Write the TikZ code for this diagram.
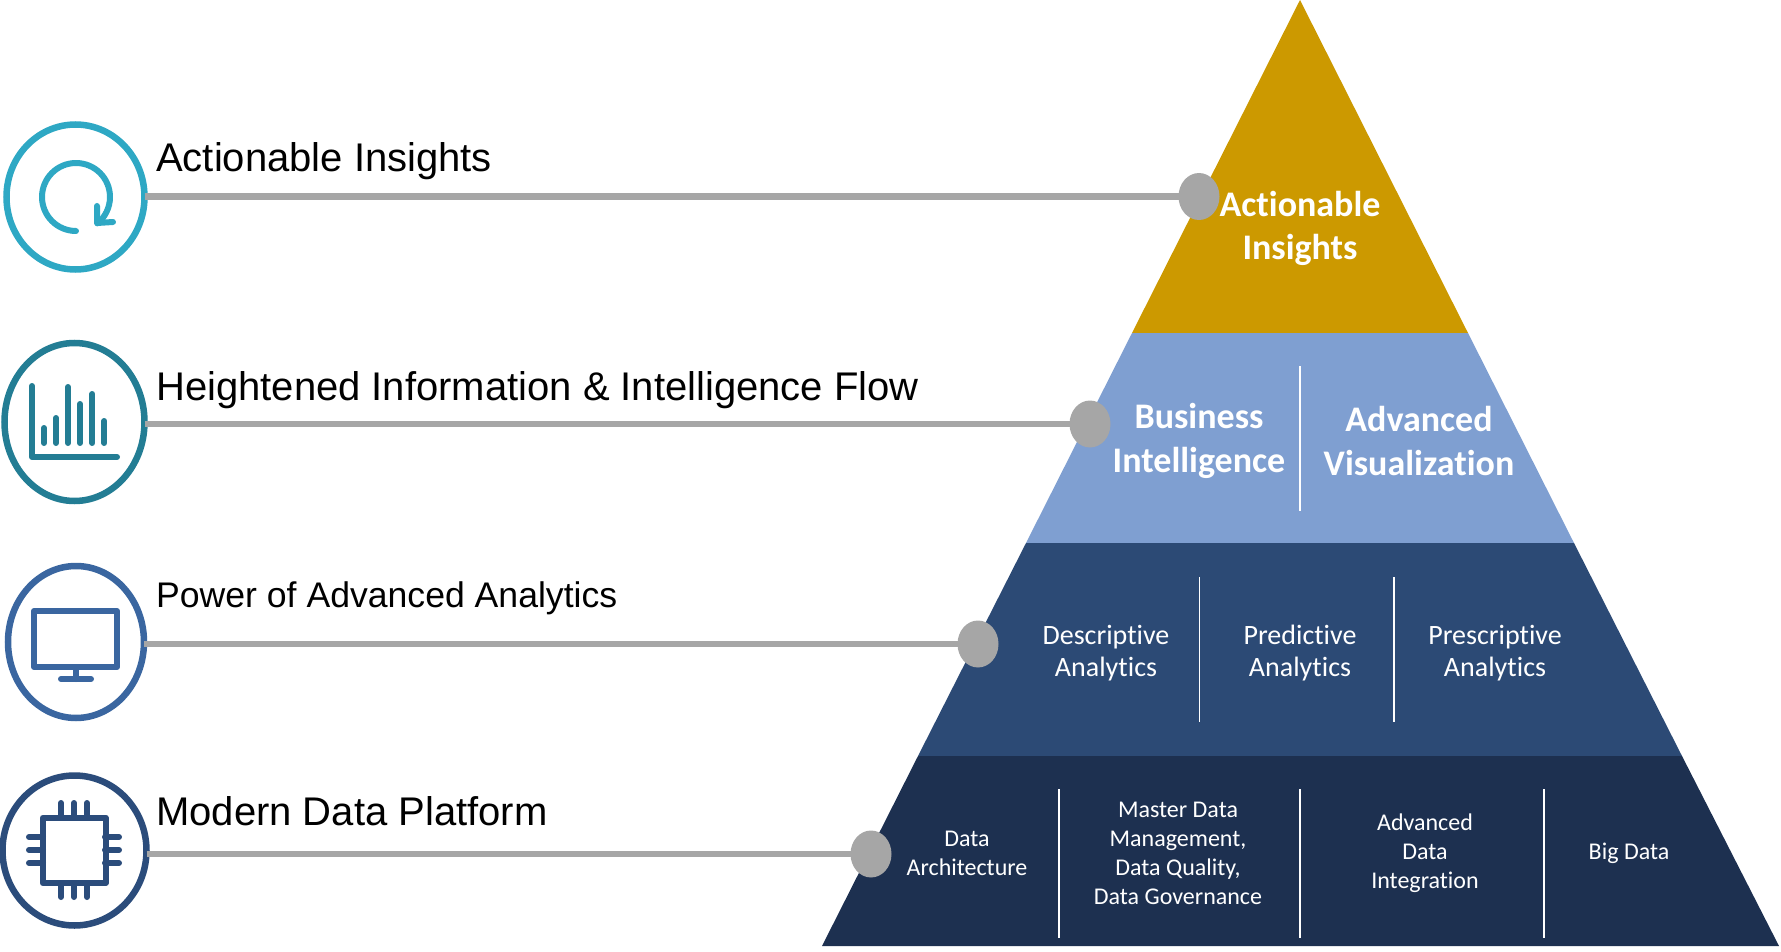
\documentclass[tikz,border=0pt]{standalone}
\usepackage{fontspec}
\setmainfont{Liberation Sans}
\newfontfamily\carlitofont[Ligatures=NoCommon]{Carlito}
\usetikzlibrary{shapes.geometric}
\definecolor{cA}{HTML}{2EA8C4}
\definecolor{cB}{HTML}{237D94}
\definecolor{cC}{HTML}{3A66A0}
\definecolor{cD}{HTML}{2B4C7B}
\definecolor{tierA}{HTML}{CC9900}
\definecolor{tierB}{HTML}{7F9FD1}
\definecolor{tierC}{HTML}{2C4A75}
\definecolor{tierD}{HTML}{1D3050}
\definecolor{grayline}{HTML}{A6A6A6}
\tikzset{
  ring/.style={ellipse,draw,fill=white,line width=6.5pt,inner sep=0pt,outer sep=0pt},
  icon/.style={line width=6pt,line cap=round,line join=round},
  conn/.style={draw=grayline,line width=6.5pt},
  dot/.style={ellipse,fill=grayline,inner sep=0pt,outer sep=0pt,minimum width=41pt,minimum height=47pt},
  sep/.style={draw=white,line width=1.6pt},
  lab/.style={anchor=base west,inner sep=0pt,font=\fontsize{40}{46}\selectfont},
  labsmall/.style={anchor=base west,inner sep=0pt,font=\fontsize{35.6}{42}\selectfont},
  big/.style={text=white,align=center,inner sep=0pt,font=\carlitofont\bfseries\fontsize{36}{43.6}\selectfont},
  mid/.style={text=white,align=center,inner sep=0pt,font=\carlitofont\fontsize{28}{32}\selectfont},
  small/.style={text=white,align=center,inner sep=0pt,font=\carlitofont\fontsize{24}{29}\selectfont},
}
\begin{document}
\begin{tikzpicture}[x=1pt,y=-1pt]
\useasboundingbox (0,0) rectangle (1781,952);
% pyramid
\fill[tierA] (1300,0) -- (1468,333) -- (1132,333) -- cycle;
\fill[tierB] (1132,333) -- (1468,333) -- (1574,543) -- (1026,543) -- cycle;
\fill[tierC] (1026,543) -- (1574,543) -- (1682,756) -- (918,756) -- cycle;
\fill[tierD] (918,756) -- (1682,756) -- (1779,946) -- (822,946) -- cycle;
% separators
\draw[sep] (1300,366) -- (1300,511);
\draw[sep] (1199.5,577) -- (1199.5,722);
\draw[sep] (1394,577) -- (1394,722);
\draw[sep] (1059,789) -- (1059,938);
\draw[sep] (1300,789) -- (1300,938);
\draw[sep] (1544,789) -- (1544,938);
% pyramid text
\node[big] (p1) at (1300,228.5) {Actionable\\Insights};
\node[big] (p2) at (1199,441) {Business\\Intelligence};
\node[big] (p3) at (1419,441) {Advanced\\Visualization};
\node[mid] (p4) at (1106,653) {Descriptive\\Analytics};
\node[mid] (p5) at (1300,653) {Predictive\\Analytics};
\node[mid] (p6) at (1495,653) {Prescriptive\\Analytics};
\node[small] (p7) at (967,853) {Data\\Architecture};
\node[small] (p8) at (1178,853) {Master Data\\Management,\\Data Quality,\\Data Governance};
\node[small] (p9) at (1425,853) {Advanced\\Data\\Integration};
\node[small] (p10) at (1629,853) {Big Data};
% rings
\node[ring,draw=cA,minimum width=138pt,minimum height=145pt] (c1) at (75.5,197) {};
\node[ring,draw=cB,minimum width=140pt,minimum height=158pt] (c2) at (74.5,422) {};
\node[ring,draw=cC,minimum width=136pt,minimum height=152pt] (c3) at (76,642) {};
\node[ring,draw=cD,minimum width=144pt,minimum height=150pt] (c4) at (74.5,850.5) {};
% dots
\node[dot] (d1) at (1199,196.5) {};
\node[dot] (d2) at (1090,424) {};
\node[dot] (d3) at (978,644) {};
\node[dot] (d4) at (871,854) {};
% connectors
\draw[conn] (c1.east |- d1.center) -- (d1.west);
\draw[conn] (c2.east |- d2.center) -- (d2.west);
\draw[conn] (c3.east |- d3.center) -- (d3.west);
\draw[conn] (c4.east |- d4.center) -- (d4.west);
% labels
\node[lab] (l1) at (156,172) {Actionable Insights};
\node[lab] (l2) at (156,400) {Heightened Information \& Intelligence Flow};
\node[labsmall] (l3) at (156,607) {Power of Advanced Analytics};
\node[lab] (l4) at (156,825) {Modern Data Platform};
% icon 1
\draw[icon,cA] (76,231) arc (90:411:34);
\draw[icon,cA] (97,206) -- (97,223) -- (113,222);
% icon 2
\draw[icon,cB] (32,386) -- (32,457) -- (117,457);
\foreach \x/\t in {44/428,56/418,68/387,80/404,92.3/394,104.3/421}
  \draw[icon,cB] (\x,\t) -- (\x,443);
% icon 3
\draw[icon,cC] (34,611) rectangle (117,667);
\draw[icon,cC] (76,667) -- (76,679);
\draw[icon,cC] (61,679) -- (91,679);
% icon 4
\draw[icon,cD] (42.7,817.7) rectangle (105.7,883);
\foreach \x in {61,74,87} {
  \draw[icon,cD] (\x,803) -- (\x,817);
  \draw[icon,cD] (\x,883) -- (\x,897);
}
\foreach \y in {837,850,863} {
  \draw[icon,cD] (29,\y) -- (43,\y);
  \draw[icon,cD] (105,\y) -- (119,\y);
}
\end{tikzpicture}
\end{document}
